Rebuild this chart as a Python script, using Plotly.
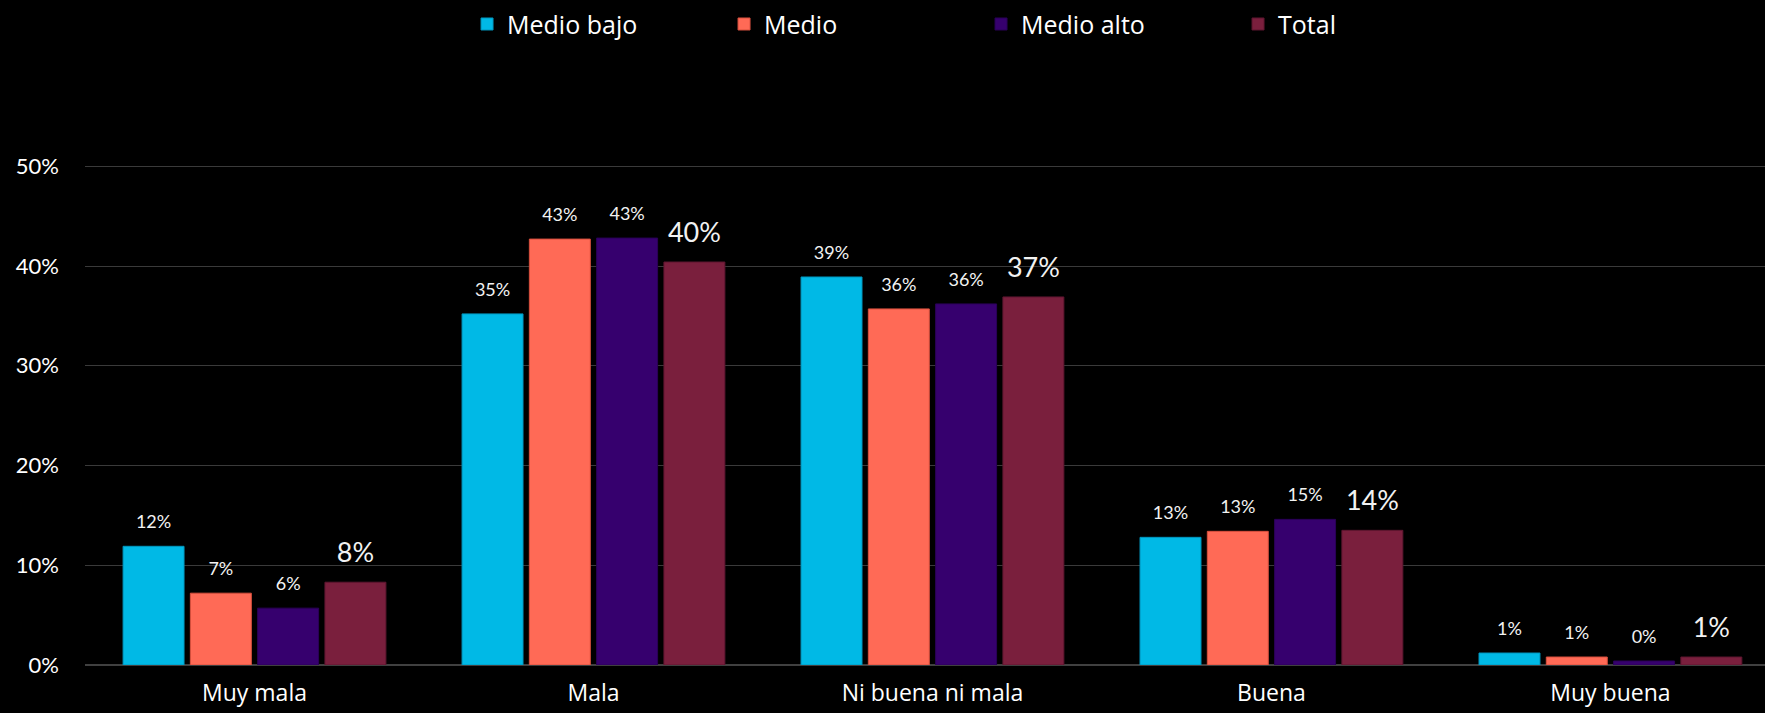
import plotly.graph_objects as go

categorias = ["Muy mala", "Mala", "Ni buena ni mala", "Buena", "Muy buena"]

medio_bajo = [0.119, 0.352, 0.389, 0.128, 0.012]
medio = [0.072, 0.427, 0.357, 0.134, 0.008]
medio_alto = [0.057, 0.428, 0.362, 0.146, 0.004]
total = [0.083, 0.404, 0.369, 0.135, 0.008]

series = [
    ("Medio bajo", medio_bajo, "#00B9E6", "#0096BE", 18),
    ("Medio", medio, "#FF6A56", "#D9503E", 18),
    ("Medio alto", medio_alto, "#36006E", "#2A0058", 18),
    ("Total", total, "#7A1F3D", "#5E1630", 27),
]

fig = go.Figure()

for name, vals, color, edge, size in series:
    fig.add_trace(go.Bar(
        x=categorias,
        y=vals,
        name=name,
        marker=dict(color=color, line=dict(color=edge, width=1)),
        hoverinfo="skip"
    ))

# etiquetas de datos, alineadas con las barras
for name, vals, color, edge, size in series:
    fig.add_trace(go.Scatter(
        x=categorias,
        y=vals,
        mode="markers+text",
        text=[f"{v * 100:.0f}%" for v in vals],
        textposition="top center",
        textfont=dict(size=size, color="#F2F2F2", family="Lato"),
        marker=dict(size=20, opacity=0),
        showlegend=False,
        hoverinfo="skip"
    ))

fig.update_layout(
    width=1765,
    height=713,
    paper_bgcolor="black",
    plot_bgcolor="black",
    font=dict(family="Open Sans", color="white"),
    barmode="group",
    bargap=0.206,
    bargroupgap=0.094,
    scattermode="group",
    scattergap=0.206,
    margin=dict(l=85, r=0, t=156, b=48),
    legend=dict(
        orientation="h",
        x=0.2274,
        xanchor="left",
        yref="container",
        y=0.966,
        yanchor="middle",
        font=dict(size=25, color="white", family="Open Sans"),
        itemwidth=30,
        entrywidth=212,
        traceorder="normal"
    ),
    showlegend=True
)

fig.update_xaxes(
    range=[-0.5, 4.456],
    showgrid=False,
    showline=False,
    tickfont=dict(size=23, color="white", family="Open Sans"),
    ticklabelstandoff=12
)

fig.update_yaxes(
    range=[0, 0.5103],
    tickvals=[0, 0.1, 0.2, 0.3, 0.4, 0.5],
    tickformat=".0%",
    showgrid=True,
    gridcolor="#3A3A3A",
    gridwidth=1,
    zeroline=True,
    zerolinecolor="#404040",
    zerolinewidth=2,
    tickfont=dict(size=22, color="white", family="Lato"),
    ticklabelstandoff=25
)

fig.write_html(
    "out.html",
    config={"displayModeBar": False},
    post_script="document.body.style.margin='0';document.body.style.background='black';"
)
